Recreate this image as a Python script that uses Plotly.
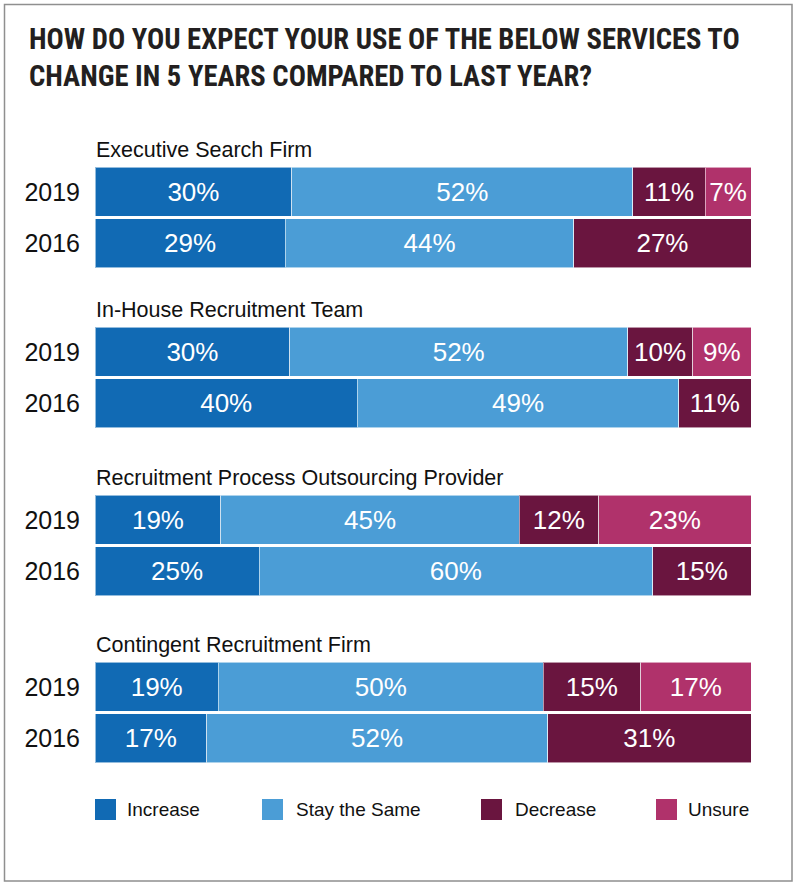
import plotly.graph_objects as go

# ---------------- data ----------------
services = ["Executive Search Firm", "In-House Recruitment Team",
            "Recruitment Process Outsourcing Provider", "Contingent Recruitment Firm"]
years = ["2019", "2016"]
categories = ["Increase", "Stay the Same", "Decrease", "Unsure"]

increase_2019 = [30, 30, 19, 19]
increase_2016 = [29, 40, 25, 17]
same_2019 = [52, 52, 45, 50]
same_2016 = [44, 49, 60, 52]
decrease_2019 = [11, 10, 12, 15]
decrease_2016 = [27, 11, 15, 31]
unsure_2019 = [7, 9, 23, 17]
unsure_2016 = [None, None, None, None]

colors = ["#116AB4", "#4B9DD6", "#6A153F", "#B0326B"]

series = {
    "Increase": (increase_2019, increase_2016),
    "Stay the Same": (same_2019, same_2016),
    "Decrease": (decrease_2019, decrease_2016),
    "Unsure": (unsure_2019, unsure_2016),
}

W, H = 795, 884
def px_x(p): return p / W
def px_y(p): return 1 - p / H

bar_tops = [166, 326, 494, 661]
block_h = 103
bar_left, bar_right = 95, 751

ARIAL = "Liberation Sans, Arial, sans-serif"
COND = "Roboto Condensed, DejaVu Sans Condensed, sans-serif"

fig = go.Figure()
annotations = []
layout_axes = {}

for gi, svc in enumerate(services):
    idx = "" if gi == 0 else str(gi + 1)
    xa, ya = "x" + idx, "y" + idx
    for ci, cat in enumerate(categories):
        v19, v16 = series[cat]
        vals = [v19[gi], v16[gi]]
        fig.add_trace(go.Bar(
            x=vals, y=years, orientation="h", name=cat,
            xaxis=xa, yaxis=ya,
            marker=dict(color=colors[ci], line=dict(color="rgba(255,255,255,0.55)", width=1)),
            text=[f"{v}%" if v is not None else "" for v in vals],
            textposition="inside", insidetextanchor="middle", textangle=0,
            textfont=dict(family=ARIAL, size=26, color="white"),
            showlegend=False, hoverinfo="skip",
        ))
    top = bar_tops[gi]
    layout_axes["xaxis" + idx] = dict(
        domain=[px_x(bar_left), px_x(bar_right)], range=[0, 100],
        visible=False, fixedrange=True, anchor=ya)
    layout_axes["yaxis" + idx] = dict(
        domain=[px_y(top + block_h), px_y(top)], anchor=xa,
        type="category", categoryorder="array", categoryarray=years[::-1],
        showgrid=False, zeroline=False, showline=False, ticks="",
        ticklabelstandoff=14, fixedrange=True,
        tickfont=dict(family=ARIAL, size=25, color="#111111"))
    annotations.append(dict(
        text=svc, x=px_x(bar_left - 1), y=px_y(top), xref="paper", yref="paper",
        xanchor="left", yanchor="bottom", yshift=2, showarrow=False,
        font=dict(family=ARIAL, size=21.5, color="#111111")))

# title
annotations.append(dict(
    text="HOW DO YOU EXPECT YOUR USE OF THE BELOW SERVICES TO<br>CHANGE IN 5 YEARS COMPARED TO LAST YEAR?",
    x=px_x(27), y=px_y(20), xref="paper", yref="paper", xanchor="left", yanchor="top",
    align="left", showarrow=False,
    font=dict(family=COND, size=28.6, color="#231F20", weight="bold")))

# legend (custom squares + labels)
shapes = []
leg_sq_x = [95, 262, 481, 656]
leg_tx_x = [125, 294, 513, 686]
for ci, cat in enumerate(categories):
    shapes.append(dict(type="rect", xref="paper", yref="paper",
                       x0=px_x(leg_sq_x[ci]), x1=px_x(leg_sq_x[ci] + 21),
                       y0=px_y(820), y1=px_y(799),
                       fillcolor=colors[ci], line=dict(width=0)))
    annotations.append(dict(
        text=cat, x=px_x(leg_tx_x[ci]), y=px_y(809.5), xref="paper", yref="paper",
        xanchor="left", yanchor="middle", showarrow=False,
        font=dict(family=ARIAL, size=19, color="#111111")))

# outer frame
shapes.append(dict(type="rect", xref="paper", yref="paper",
                   x0=px_x(4.5), x1=px_x(792), y0=px_y(881), y1=px_y(4.5),
                   line=dict(color="#8f8f8f", width=1.5), fillcolor="rgba(0,0,0,0)"))

fig.update_layout(
    width=W, height=H, margin=dict(l=0, r=0, t=0, b=0),
    paper_bgcolor="white", plot_bgcolor="white",
    barmode="stack", barnorm="percent", bargap=0.058,
    annotations=annotations, shapes=shapes,
    uniformtext=dict(mode=False), hovermode=False, dragmode=False,
    **layout_axes,
)

fig.write_html("out.html", config={"displayModeBar": False, "staticPlot": True},
               post_script="document.body.style.margin='0';")
